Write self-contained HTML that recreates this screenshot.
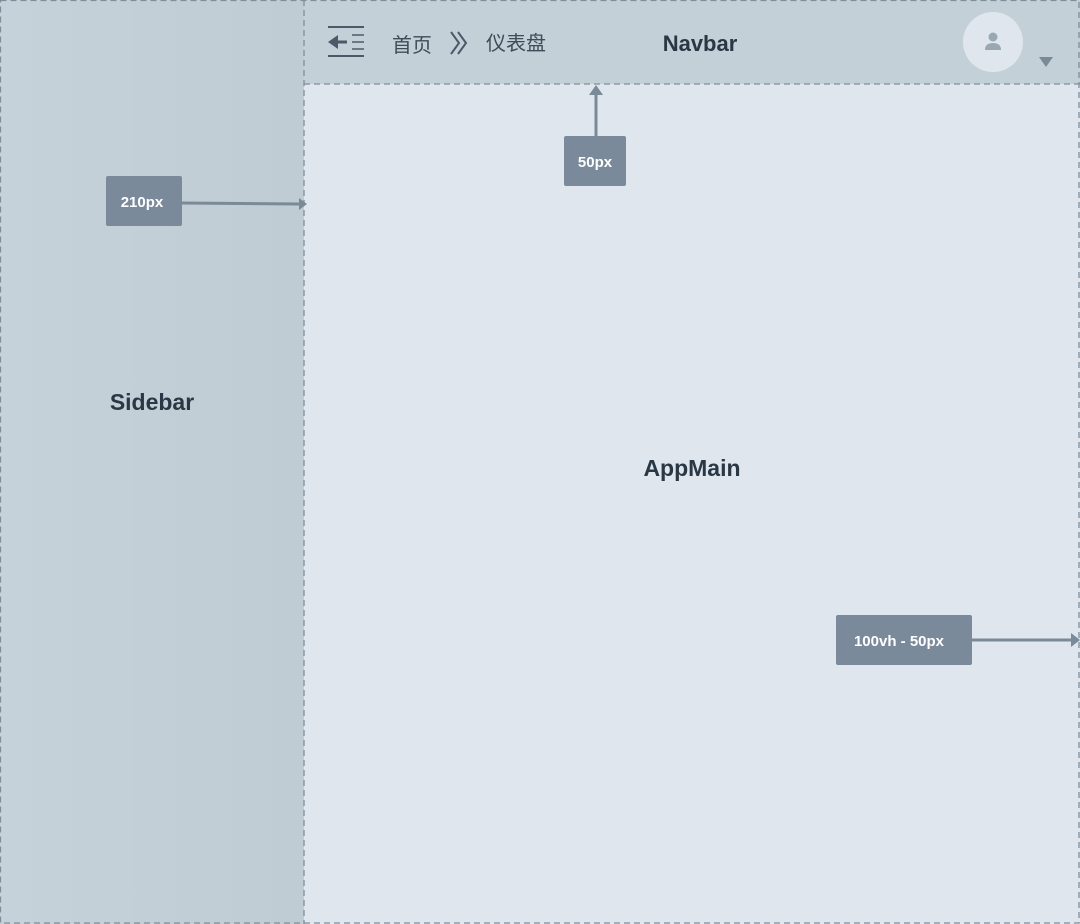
<!DOCTYPE html>
<html><head><meta charset="utf-8"><style>
body{margin:0;width:1080px;height:924px;overflow:hidden;background:#dfe6ee;font-family:"Liberation Sans","Noto Sans CJK SC",sans-serif;}
</style></head><body>
<svg width="1080" height="924" xmlns="http://www.w3.org/2000/svg" style="position:absolute;left:0;top:0">
<defs><linearGradient id="g" x1="0" x2="1"><stop offset="0" stop-color="#c6d2da"/><stop offset="1" stop-color="#c0ccd4"/></linearGradient></defs>
<rect x="0" y="0" width="304" height="924" fill="url(#g)"/>
<rect x="304" y="0" width="776" height="84" fill="#c4d0d8"/>
<rect x="304" y="84" width="776" height="840" fill="#dfe6ee"/>
<g fill="none" stroke="#7f8e9a" stroke-width="1.3" stroke-dasharray="6,4">
<rect x="0.5" y="0.5" width="1078.5" height="922.5"/>
<line x1="304" y1="0" x2="304" y2="924"/>
<line x1="304" y1="84" x2="1080" y2="84"/>
</g>
<g stroke="#4a5a68" stroke-width="2">
<line x1="328" y1="27" x2="364" y2="27"/><line x1="328" y1="56" x2="364" y2="56"/>
<line x1="332" y1="42" x2="347" y2="42" stroke-width="3"/>
<line x1="352" y1="35" x2="364" y2="35" stroke-width="1.5"/><line x1="352" y1="42" x2="364" y2="42" stroke-width="1.5"/><line x1="352" y1="49" x2="364" y2="49" stroke-width="1.5"/>
</g>
<polygon points="328,42 338,35 338,49" fill="#4a5a68"/>
<text x="392" y="52" font-size="20" fill="#3e4c58" font-family="Noto Sans CJK SC,sans-serif">首页</text>
<path d="M451 32 L459 43 L451 54 M458 32 L466 43 L458 54" stroke="#4a5a68" stroke-width="2" fill="none"/>
<text x="486" y="50" font-size="20" fill="#3e4c58" font-family="Noto Sans CJK SC,sans-serif">仪表盘</text>
<text x="700" y="51" font-size="22" font-weight="bold" fill="#2a3744" text-anchor="middle">Navbar</text>
<circle cx="993" cy="42" r="30" fill="#dfe6ee"/>
<circle cx="993" cy="37" r="4.5" fill="#9aa8b4"/>
<path d="M985 50 Q985 43 993 43 Q1001 43 1001 50 Z" fill="#9aa8b4"/>
<polygon points="1039,57 1053,57 1046,67" fill="#7a8a98"/>
<text x="152" y="410" font-size="23" font-weight="bold" fill="#2a3744" text-anchor="middle">Sidebar</text>
<text x="692" y="476" font-size="23" font-weight="bold" fill="#2a3744" text-anchor="middle">AppMain</text>
<g stroke="#7a8a98" stroke-width="3" fill="#7a8a98">
<line x1="182" y1="203" x2="300" y2="204"/>
<line x1="596" y1="136" x2="596" y2="94"/>
<line x1="971" y1="640" x2="1072" y2="640"/>
</g>
<polygon points="307,204 299,198 299,210" fill="#7a8a98"/>
<polygon points="596,85 589,95 603,95" fill="#7a8a98"/>
<polygon points="1080,640 1071,633 1071,647" fill="#7a8a98"/>
<rect x="106" y="176" width="76" height="50" rx="2" fill="#7a8a9a"/>
<text x="142" y="207" font-size="15" font-weight="bold" fill="#fff" text-anchor="middle">210px</text>
<rect x="564" y="136" width="62" height="50" rx="2" fill="#7a8a9a"/>
<text x="595" y="167" font-size="15" font-weight="bold" fill="#fff" text-anchor="middle">50px</text>
<rect x="836" y="615" width="136" height="50" rx="2" fill="#7a8a9a"/>
<text x="899" y="646" font-size="15" font-weight="bold" fill="#fff" text-anchor="middle">100vh - 50px</text>
</svg>
</body></html>
